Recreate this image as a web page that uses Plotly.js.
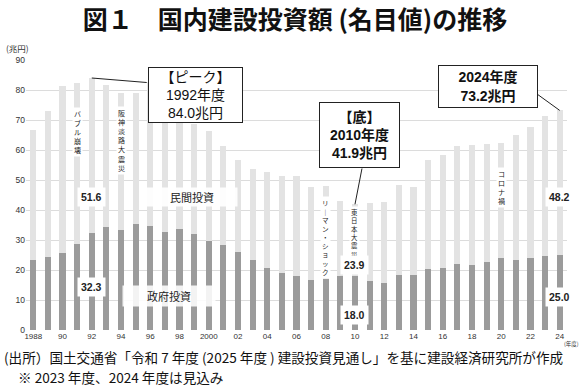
<!DOCTYPE html>
<html>
<head>
<meta charset="utf-8">
<script src="https://cdn.plot.ly/plotly-3.0.1.min.js"></script>
<style>html,body{margin:0;padding:0;background:#fff;}#chart{width:580px;height:387px;}</style>
</head>
<body>
<div id="chart"></div>
<script>
// ---- data (兆円) ----
const years = [1988,1989,1990,1991,1992,1993,1994,1995,1996,1997,1998,1999,2000,2001,2002,2003,2004,2005,2006,2007,2008,2009,2010,2011,2012,2013,2014,2015,2016,2017,2018,2019,2020,2021,2022,2023,2024];
const govInvest = [23.2,24.3,25.6,28.6,32.3,34.2,33.2,35.3,34.6,32.8,33.8,31.9,29.8,28.2,25.9,23.5,20.8,18.9,17.9,16.8,17.0,17.9,18.0,16.3,15.8,18.5,18.5,20.2,20.8,21.9,21.6,22.6,23.9,23.5,23.9,24.6,25.0];
const privInvest = [43.5,48.8,55.8,53.8,51.6,47.5,45.7,43.7,48.2,42.4,37.6,36.7,36.4,33.0,30.9,30.1,31.8,32.6,33.3,30.8,31.1,25.0,23.9,26.0,26.8,29.7,29.1,36.5,37.7,39.3,40.1,39.5,38.6,41.6,43.9,46.9,48.2];
const totalInvest = [66.7,73.1,81.4,82.4,84.0,81.7,78.9,79.0,82.8,75.2,71.4,68.6,66.2,61.2,56.8,53.6,52.6,51.5,51.2,47.6,48.1,42.9,41.9,42.3,42.6,48.2,47.6,56.7,58.5,61.2,61.7,62.1,62.5,65.1,67.8,71.5,73.2];
const tickYears = [1988,1990,1992,1994,1996,1998,2000,2002,2004,2006,2008,2010,2012,2014,2016,2018,2020,2022,2024];
const tickLabels = ["1988","90","92","94","96","98","2000","02","04","06","08","10","12","14","16","18","20","22","24"];
const events = [
  {year:1991, label:"バブル崩壊"},
  {year:1994, label:"阪神淡路大震災"},
  {year:2008, label:"リ｜マン・ショック"},
  {year:2010, label:"東日本大震災"},
  {year:2020, label:"コロナ禍"}
];

// ---- layout helpers (pixel -> paper) ----
const L=26, R=13, T=60, B=57, W=580, H=387;
const pw = W-L-R, ph = H-T-B;
const PX = p => (p-L)/pw;
const PY = p => (H-B-p)/ph;
const FONT = "Liberation Sans, Arial, Noto Sans CJK JP, sans-serif";
const JFONT = "Noto Sans CJK JP, sans-serif";
const idx = y => years.indexOf(y);

const traces = [
  {type:'bar', name:'政府投資', x:years, y:govInvest, width:0.42,
   marker:{color:'#9b9b9b', line:{width:0}}, hoverinfo:'skip'},
  {type:'bar', name:'民間投資', x:years, y:privInvest, width:0.42,
   marker:{color:'#e3e3e3', line:{width:0}}, hoverinfo:'skip'}
];

const ann = [];
// vertical event labels (stacked characters)
const vcfg = {1991:{top:107,size:7}, 1994:{top:106,size:7}, 2008:{top:196,size:6.6}, 2010:{top:206,size:6.4}, 2020:{top:167,size:7}};
events.forEach(ev => {
  const c = vcfg[ev.year];
  ann.push({xref:'x', yref:'paper', x:ev.year, y:PY(c.top), text:Array.from(ev.label).join('<br>'),
    showarrow:false, font:{family:JFONT, size:c.size, color:'#222'},
    bgcolor:'#ffffff', borderpad:1, xanchor:'center', yanchor:'top'});
});

// value labels on bars
const valFont = {family:FONT, size:10.5, color:'#222', weight:'bold'};
[[1992, PY(197), privInvest[idx(1992)]], [1992, PY(287), govInvest[idx(1992)]],
 [2010, PY(265), privInvest[idx(2010)]], [2010, PY(315), govInvest[idx(2010)]],
 [2024, PY(197), privInvest[idx(2024)]], [2024, PY(297), govInvest[idx(2024)]]].forEach(v => {
  ann.push({xref:'x', yref:'paper', x:v[0], y:v[1], text:'<b>'+v[2].toFixed(1)+'</b>', showarrow:false,
    font:valFont, bgcolor:'#ffffff', borderpad:3, xanchor:'center', yanchor:'middle'});
});

// series labels
ann.push({xref:'paper', yref:'paper', x:PX(192), y:PY(197), xanchor:'center', yanchor:'middle', text:'民間投資', showarrow:false,
  font:{family:JFONT, size:11, color:'#222'}, bgcolor:'rgba(255,255,255,0.9)', width:88, height:16, borderpad:1});
ann.push({xref:'paper', yref:'paper', x:PX(169), y:PY(296), xanchor:'center', yanchor:'middle', text:'政府投資', showarrow:false,
  font:{family:JFONT, size:11, color:'#222'}, bgcolor:'rgba(255,255,255,0.88)', width:90, height:18, borderpad:1});

// callout boxes
const peak = totalInvest[idx(1992)], low = totalInvest[idx(2010)], last = totalInvest[idx(2024)];
ann.push({xref:'paper', yref:'paper', x:PX(195.5), y:PY(95), xanchor:'center', yanchor:'middle', showarrow:false,
  text:'【ピーク】<br>1992年度<br>'+peak.toFixed(1)+'兆円',
  font:{family:FONT, size:14, color:'#111'}, bgcolor:'#fff', bordercolor:'#222', borderwidth:1,
  width:91, height:52, borderpad:1});
ann.push({xref:'paper', yref:'paper', x:PX(359.5), y:PY(135), xanchor:'center', yanchor:'middle', showarrow:false,
  text:'<b>【底】<br>2010年度<br>'+low.toFixed(1)+'兆円</b>',
  font:{family:FONT, size:14, color:'#111'}, bgcolor:'#fff', bordercolor:'#222', borderwidth:1,
  width:77, height:62, borderpad:1});
ann.push({xref:'paper', yref:'paper', x:PX(488), y:PY(86.5), xanchor:'center', yanchor:'middle', showarrow:false,
  text:'<b>2024年度<br>'+last.toFixed(1)+'兆円</b>',
  font:{family:FONT, size:14, color:'#111'}, bgcolor:'#fff', bordercolor:'#222', borderwidth:1,
  width:96, height:39, borderpad:1});

// axis extras
ann.push({xref:'paper', yref:'paper', x:PX(4), y:PY(48), text:'(兆円)', showarrow:false, xanchor:'left', yanchor:'middle',
  font:{family:JFONT, size:8.5, color:'#333'}});
ann.push({xref:'paper', yref:'paper', x:PX(571), y:PY(344), text:'(年度)', showarrow:false, xanchor:'center', yanchor:'middle',
  font:{family:JFONT, size:5.5, color:'#333'}});

// footnotes
ann.push({xref:'paper', yref:'paper', x:PX(2), y:PY(357), text:'(出所）国土交通省「令和 7 年度 (2025 年度 ) 建設投資見通し」を基に建設経済研究所が作成', showarrow:false, xanchor:'left', yanchor:'middle',
  font:{family:JFONT, size:13.6, color:'#111'}});
ann.push({xref:'paper', yref:'paper', x:PX(16), y:PY(377), text:'※ 2023 年度、2024 年度は見込み', showarrow:false, xanchor:'left', yanchor:'middle',
  font:{family:JFONT, size:13.6, color:'#111'}});

// connector lines
const shapes = [
  {type:'line', xref:'x', yref:'y', x0:1992, y0:peak, x1:1992+(148-93)/14.64, y1:(329.5-82)/3, line:{color:'#222', width:1}},
  {type:'line', xref:'x', yref:'y', x0:2010, y0:low, x1:2010+(362-355)/14.64, y1:(329.5-168)/3, line:{color:'#222', width:1}},
  {type:'line', xref:'x', yref:'y', x0:2024, y0:last, x1:2024-(560-538)/14.64, y1:(329.5-94)/3, line:{color:'#222', width:1}}
];

const layout = {
  width:W, height:H, margin:{l:L, r:R, t:T, b:B},
  paper_bgcolor:'#fff', plot_bgcolor:'#fff',
  barmode:'stack', showlegend:false,
  title:{text:'<b>図１　国内建設投資額 (名目値)の推移</b>', xref:'container', yref:'container', x:295/580, y:1-20/387,
    xanchor:'center', yanchor:'middle', font:{family:JFONT, size:25, color:'#111'}},
  xaxis:{range:[1987.5,2024.5], tickvals:tickYears, ticktext:tickLabels, showgrid:false, zeroline:false,
    showline:false, ticks:'', tickfont:{family:FONT, size:8, color:'#333'}, fixedrange:true},
  yaxis:{range:[0,90], dtick:10, showgrid:true, gridcolor:'#dcdcdc', gridwidth:1, zeroline:false, showline:false,
    ticks:'', tickfont:{family:FONT, size:8.5, color:'#333'}, fixedrange:true},
  annotations:ann, shapes:shapes
};
Plotly.newPlot('chart', traces, layout, {displayModeBar:false, staticPlot:true});
</script>
</body>
</html>
